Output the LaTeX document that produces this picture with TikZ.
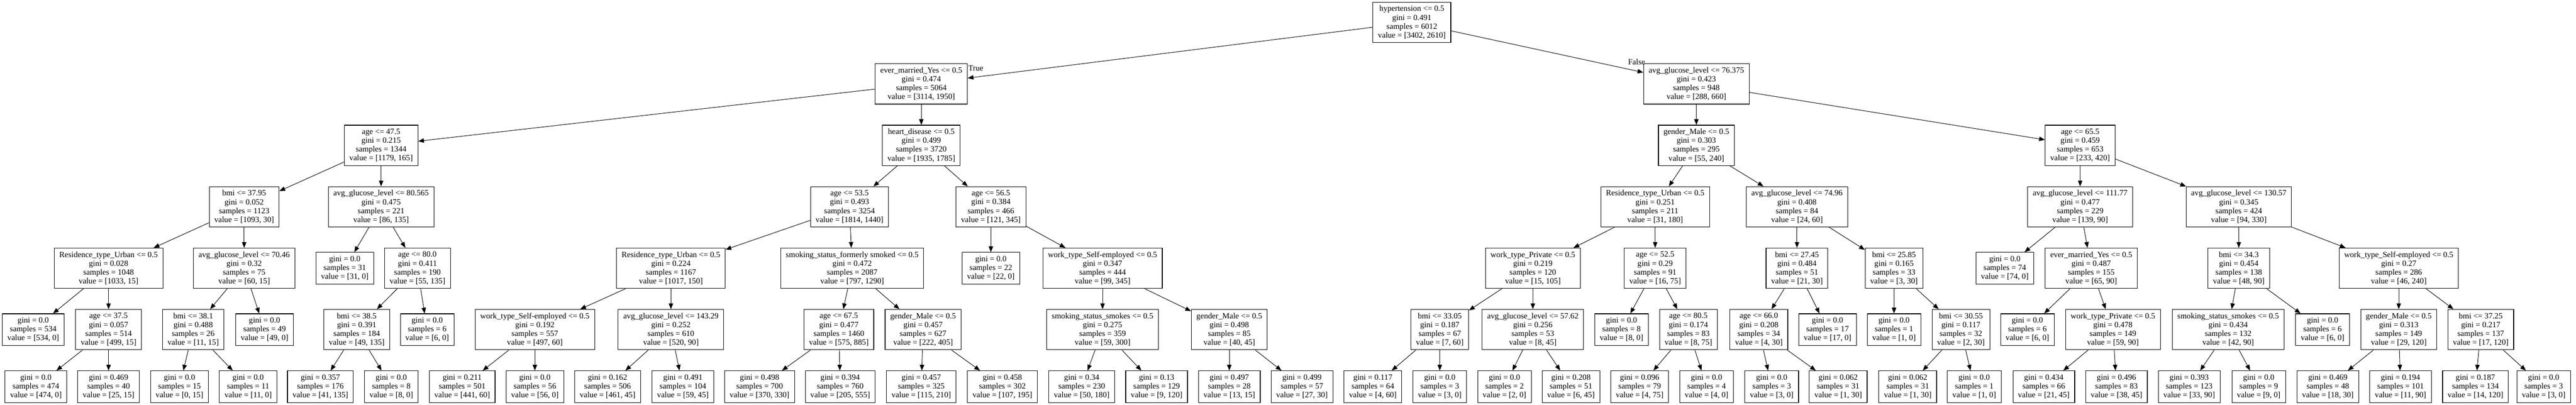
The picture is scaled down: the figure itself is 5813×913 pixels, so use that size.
\documentclass[tikz,border=0pt]{standalone}
\usepackage{fontspec}
\setmainfont{Liberation Serif}
\usetikzlibrary{arrows.meta}
\newcommand{\treefont}{\fontsize{18.2pt}{20pt}\selectfont}
\tikzset{
  box/.style={draw, rectangle, align=center, line width=1.3pt, inner xsep=11.5pt, inner ysep=1pt, font=\treefont},
  split/.style={box, minimum height=91pt},
  leaf/.style={box, minimum height=71.5pt},
  edge/.style={line width=1.1pt, -{Triangle[length=13pt,width=10pt]}},
}
\begin{document}
\begin{tikzpicture}[x=1pt,y=-1pt]
       \useasboundingbox (0,0) rectangle (5813,913);

       % depth 0 and 1
       \node[split] (R) at (3186,50.5) {hypertension <= 0.5\\gini = 0.491\\samples = 6012\\value = [3402, 2610]};
       \node[split] (RL) at (2079,189.3) {ever\_married\_Yes <= 0.5\\gini = 0.474\\samples = 5064\\value = [3114, 1950]};
       \node[split] (RR) at (3828,189.3) {avg\_glucose\_level <= 76.375\\gini = 0.423\\samples = 948\\value = [288, 660]};

       % depth 2
       \node[split] (RLL) at (860,328) {age <= 47.5\\gini = 0.215\\samples = 1344\\value = [1179, 165]};
       \node[split] (RLR) at (2079,328) {heart\_disease <= 0.5\\gini = 0.499\\samples = 3720\\value = [1935, 1785]};
       \node[split] (RRL) at (3828,328) {gender\_Male <= 0.5\\gini = 0.303\\samples = 295\\value = [55, 240]};
       \node[split] (RRR) at (4694,328) {age <= 65.5\\gini = 0.459\\samples = 653\\value = [233, 420]};

       % depth 3
       \node[split] (RLLL) at (551,466.7) {bmi <= 37.95\\gini = 0.052\\samples = 1123\\value = [1093, 30]};
       \node[split] (RLLR) at (860,466.7) {avg\_glucose\_level <= 80.565\\gini = 0.475\\samples = 221\\value = [86, 135]};
       \node[split] (RLRL) at (1917,466.7) {age <= 53.5\\gini = 0.493\\samples = 3254\\value = [1814, 1440]};
       \node[split] (RLRR) at (2236,466.7) {age <= 56.5\\gini = 0.384\\samples = 466\\value = [121, 345]};
       \node[split] (RRLL) at (3735,466.7) {Residence\_type\_Urban <= 0.5\\gini = 0.251\\samples = 211\\value = [31, 180]};
       \node[split] (RRLR) at (4055,466.7) {avg\_glucose\_level <= 74.96\\gini = 0.408\\samples = 84\\value = [24, 60]};
       \node[split] (RRRL) at (4694,466.7) {avg\_glucose\_level <= 111.77\\gini = 0.477\\samples = 229\\value = [139, 90]};
       \node[split] (RRRR) at (5052,466.7) {avg\_glucose\_level <= 130.57\\gini = 0.345\\samples = 424\\value = [94, 330]};

       % depth 4
       \node[split] (RLLLL) at (245,605.3) {Residence\_type\_Urban <= 0.5\\gini = 0.028\\samples = 1048\\value = [1033, 15]};
       \node[split] (RLLLR) at (551,605.3) {avg\_glucose\_level <= 70.46\\gini = 0.32\\samples = 75\\value = [60, 15]};
       \node[leaf] (RLLRL) at (778,605.3) {gini = 0.0\\samples = 31\\value = [31, 0]};
       \node[split] (RLLRR) at (942,605.3) {age <= 80.0\\gini = 0.411\\samples = 190\\value = [55, 135]};
       \node[split] (RLRLL) at (1514,605.3) {Residence\_type\_Urban <= 0.5\\gini = 0.224\\samples = 1167\\value = [1017, 150]};
       \node[split] (RLRLR) at (1923,605.3) {smoking\_status\_formerly smoked <= 0.5\\gini = 0.472\\samples = 2087\\value = [797, 1290]};
       \node[leaf] (RLRRL) at (2236,605.3) {gini = 0.0\\samples = 22\\value = [22, 0]};
       \node[split] (RLRRR) at (2488,605.3) {work\_type\_Self-employed <= 0.5\\gini = 0.347\\samples = 444\\value = [99, 345]};
       \node[split] (RRLLL) at (3459,605.3) {work\_type\_Private <= 0.5\\gini = 0.219\\samples = 120\\value = [15, 105]};
       \node[split] (RRLLR) at (3735,605.3) {age <= 52.5\\gini = 0.29\\samples = 91\\value = [16, 75]};
       \node[split] (RRLRL) at (4055,605.3) {bmi <= 27.45\\gini = 0.484\\samples = 51\\value = [21, 30]};
       \node[split] (RRLRR) at (4274,605.3) {bmi <= 25.85\\gini = 0.165\\samples = 33\\value = [3, 30]};
       \node[leaf] (RRRLL) at (4524,605.3) {gini = 0.0\\samples = 74\\value = [74, 0]};
       \node[split] (RRRLR) at (4719,605.3) {ever\_married\_Yes <= 0.5\\gini = 0.487\\samples = 155\\value = [65, 90]};
       \node[split] (RRRRL) at (5052,605.3) {bmi <= 34.3\\gini = 0.454\\samples = 138\\value = [48, 90]};
       \node[split] (RRRRR) at (5413,605.3) {work\_type\_Self-employed <= 0.5\\gini = 0.27\\samples = 286\\value = [46, 240]};

       % depth 5
       \node[leaf] (RLLLLL) at (75,743.7) {gini = 0.0\\samples = 534\\value = [534, 0]};
       \node[split] (RLLLLR) at (245,743.7) {age <= 37.5\\gini = 0.057\\samples = 514\\value = [499, 15]};
       \node[split] (RLLLRL) at (436,743.7) {bmi <= 38.1\\gini = 0.488\\samples = 26\\value = [11, 15]};
       \node[leaf] (RLLLRR) at (597,743.7) {gini = 0.0\\samples = 49\\value = [49, 0]};
       \node[split] (RLLRRL) at (805,743.7) {bmi <= 38.5\\gini = 0.391\\samples = 184\\value = [49, 135]};
       \node[leaf] (RLLRRR) at (964,743.7) {gini = 0.0\\samples = 6\\value = [6, 0]};
       \node[split] (RLRLLL) at (1207,743.7) {work\_type\_Self-employed <= 0.5\\gini = 0.192\\samples = 557\\value = [497, 60]};
       \node[split] (RLRLLR) at (1514,743.7) {avg\_glucose\_level <= 143.29\\gini = 0.252\\samples = 610\\value = [520, 90]};
       \node[split] (RLRLRL) at (1893,743.7) {age <= 67.5\\gini = 0.477\\samples = 1460\\value = [575, 885]};
       \node[split] (RLRLRR) at (2083,743.7) {gender\_Male <= 0.5\\gini = 0.457\\samples = 627\\value = [222, 405]};
       \node[split] (RLRRRL) at (2488,743.7) {smoking\_status\_smokes <= 0.5\\gini = 0.275\\samples = 359\\value = [59, 300]};
       \node[split] (RLRRRR) at (2774,743.7) {gender\_Male <= 0.5\\gini = 0.498\\samples = 85\\value = [40, 45]};
       \node[split] (RRLLLL) at (3249,743.7) {bmi <= 33.05\\gini = 0.187\\samples = 67\\value = [7, 60]};
       \node[split] (RRLLLR) at (3459,743.7) {avg\_glucose\_level <= 57.62\\gini = 0.256\\samples = 53\\value = [8, 45]};
       \node[leaf] (RRLLRL) at (3659,743.7) {gini = 0.0\\samples = 8\\value = [8, 0]};
       \node[split] (RRLLRR) at (3810,743.7) {age <= 80.5\\gini = 0.174\\samples = 83\\value = [8, 75]};
       \node[split] (RRLRLL) at (3969,743.7) {age <= 66.0\\gini = 0.208\\samples = 34\\value = [4, 30]};
       \node[leaf] (RRLRLR) at (4124,743.7) {gini = 0.0\\samples = 17\\value = [17, 0]};
       \node[leaf] (RRLRRL) at (4274,743.7) {gini = 0.0\\samples = 1\\value = [1, 0]};
       \node[split] (RRLRRR) at (4425,743.7) {bmi <= 30.55\\gini = 0.117\\samples = 32\\value = [2, 30]};
       \node[leaf] (RRRLRL) at (4575,743.7) {gini = 0.0\\samples = 6\\value = [6, 0]};
       \node[split] (RRRLRR) at (4768,743.7) {work\_type\_Private <= 0.5\\gini = 0.478\\samples = 149\\value = [59, 90]};
       \node[split] (RRRRLL) at (5028,743.7) {smoking\_status\_smokes <= 0.5\\gini = 0.434\\samples = 132\\value = [42, 90]};
       \node[leaf] (RRRRLR) at (5241,743.7) {gini = 0.0\\samples = 6\\value = [6, 0]};
       \node[split] (RRRRRL) at (5413,743.7) {gender\_Male <= 0.5\\gini = 0.313\\samples = 149\\value = [29, 120]};
       \node[split] (RRRRRR) at (5598,743.7) {bmi <= 37.25\\gini = 0.217\\samples = 137\\value = [17, 120]};

       % depth 6
       \node[leaf] (RLLLLRL) at (81,872.5) {gini = 0.0\\samples = 474\\value = [474, 0]};
       \node[leaf] (RLLLLRR) at (245,872.5) {gini = 0.469\\samples = 40\\value = [25, 15]};
       \node[leaf] (RLLLRLL) at (405,872.5) {gini = 0.0\\samples = 15\\value = [0, 15]};
       \node[leaf] (RLLLRLR) at (560,872.5) {gini = 0.0\\samples = 11\\value = [11, 0]};
       \node[leaf] (RLLRRLL) at (723,872.5) {gini = 0.357\\samples = 176\\value = [41, 135]};
       \node[leaf] (RLLRRLR) at (883,872.5) {gini = 0.0\\samples = 8\\value = [8, 0]};
       \node[leaf] (RLRLLLL) at (1043,872.5) {gini = 0.211\\samples = 501\\value = [441, 60]};
       \node[leaf] (RLRLLLR) at (1207,872.5) {gini = 0.0\\samples = 56\\value = [56, 0]};
       \node[leaf] (RLRLLRL) at (1371,872.5) {gini = 0.162\\samples = 506\\value = [461, 45]};
       \node[leaf] (RLRLLRR) at (1541,872.5) {gini = 0.491\\samples = 104\\value = [59, 45]};
       \node[leaf] (RLRLRLL) at (1714,872.5) {gini = 0.498\\samples = 700\\value = [370, 330]};
       \node[leaf] (RLRLRLR) at (1896,872.5) {gini = 0.394\\samples = 760\\value = [205, 555]};
       \node[leaf] (RLRLRRL) at (2079,872.5) {gini = 0.457\\samples = 325\\value = [115, 210]};
       \node[leaf] (RLRLRRR) at (2262,872.5) {gini = 0.458\\samples = 302\\value = [107, 195]};
       \node[leaf] (RLRRRLL) at (2441,872.5) {gini = 0.34\\samples = 230\\value = [50, 180]};
       \node[leaf] (RLRRRLR) at (2610,872.5) {gini = 0.13\\samples = 129\\value = [9, 120]};
       \node[leaf] (RLRRRRL) at (2774,872.5) {gini = 0.497\\samples = 28\\value = [13, 15]};
       \node[leaf] (RLRRRRR) at (2938,872.5) {gini = 0.499\\samples = 57\\value = [27, 30]};
       \node[leaf] (RRLLLLL) at (3098,872.5) {gini = 0.117\\samples = 64\\value = [4, 60]};
       \node[leaf] (RRLLLLR) at (3249,872.5) {gini = 0.0\\samples = 3\\value = [3, 0]};
       \node[leaf] (RRLLLRL) at (3395,872.5) {gini = 0.0\\samples = 2\\value = [2, 0]};
       \node[leaf] (RRLLLRR) at (3545,872.5) {gini = 0.208\\samples = 51\\value = [6, 45]};
       \node[leaf] (RRLLRRL) at (3700,872.5) {gini = 0.096\\samples = 79\\value = [4, 75]};
       \node[leaf] (RRLLRRR) at (3851,872.5) {gini = 0.0\\samples = 4\\value = [4, 0]};
       \node[leaf] (RRLRLLL) at (3998,872.5) {gini = 0.0\\samples = 3\\value = [3, 0]};
       \node[leaf] (RRLRLLR) at (4148,872.5) {gini = 0.062\\samples = 31\\value = [1, 30]};
       \node[leaf] (RRLRRRL) at (4305,872.5) {gini = 0.062\\samples = 31\\value = [1, 30]};
       \node[leaf] (RRLRRRR) at (4455,872.5) {gini = 0.0\\samples = 1\\value = [1, 0]};
       \node[leaf] (RRRLRRL) at (4612,872.5) {gini = 0.434\\samples = 66\\value = [21, 45]};
       \node[leaf] (RRRLRRR) at (4776,872.5) {gini = 0.496\\samples = 83\\value = [38, 45]};
       \node[leaf] (RRRRLLL) at (4940,872.5) {gini = 0.393\\samples = 123\\value = [33, 90]};
       \node[leaf] (RRRRLLR) at (5097,872.5) {gini = 0.0\\samples = 9\\value = [9, 0]};
       \node[leaf] (RRRRRLL) at (5253,872.5) {gini = 0.469\\samples = 48\\value = [18, 30]};
       \node[leaf] (RRRRRLR) at (5417,872.5) {gini = 0.194\\samples = 101\\value = [11, 90]};
       \node[leaf] (RRRRRRL) at (5586,872.5) {gini = 0.187\\samples = 134\\value = [14, 120]};
       \node[leaf] (RRRRRRR) at (5740,872.5) {gini = 0.0\\samples = 3\\value = [3, 0]};

       % branch labels
       \node[font=\treefont, inner sep=0pt] (TrueLab) at (2202,154) {True};
       \node[font=\treefont, inner sep=0pt] (FalseLab) at (3693,140) {False};

       % connectors
       \draw[edge] (R) -- (RL); \draw[edge] (R) -- (RR);
       \draw[edge] (RL) -- (RLL); \draw[edge] (RL) -- (RLR);
       \draw[edge] (RR) -- (RRL); \draw[edge] (RR) -- (RRR);
       \draw[edge] (RLL) -- (RLLL); \draw[edge] (RLL) -- (RLLR);
       \draw[edge] (RLR) -- (RLRL); \draw[edge] (RLR) -- (RLRR);
       \draw[edge] (RRL) -- (RRLL); \draw[edge] (RRL) -- (RRLR);
       \draw[edge] (RRR) -- (RRRL); \draw[edge] (RRR) -- (RRRR);
       \draw[edge] (RLLL) -- (RLLLL); \draw[edge] (RLLL) -- (RLLLR);
       \draw[edge] (RLLR) -- (RLLRL); \draw[edge] (RLLR) -- (RLLRR);
       \draw[edge] (RLRL) -- (RLRLL); \draw[edge] (RLRL) -- (RLRLR);
       \draw[edge] (RLRR) -- (RLRRL); \draw[edge] (RLRR) -- (RLRRR);
       \draw[edge] (RRLL) -- (RRLLL); \draw[edge] (RRLL) -- (RRLLR);
       \draw[edge] (RRLR) -- (RRLRL); \draw[edge] (RRLR) -- (RRLRR);
       \draw[edge] (RRRL) -- (RRRLL); \draw[edge] (RRRL) -- (RRRLR);
       \draw[edge] (RRRR) -- (RRRRL); \draw[edge] (RRRR) -- (RRRRR);
       \draw[edge] (RLLLL) -- (RLLLLL); \draw[edge] (RLLLL) -- (RLLLLR);
       \draw[edge] (RLLLR) -- (RLLLRL); \draw[edge] (RLLLR) -- (RLLLRR);
       \draw[edge] (RLLRR) -- (RLLRRL); \draw[edge] (RLLRR) -- (RLLRRR);
       \draw[edge] (RLRLL) -- (RLRLLL); \draw[edge] (RLRLL) -- (RLRLLR);
       \draw[edge] (RLRLR) -- (RLRLRL); \draw[edge] (RLRLR) -- (RLRLRR);
       \draw[edge] (RLRRR) -- (RLRRRL); \draw[edge] (RLRRR) -- (RLRRRR);
       \draw[edge] (RRLLL) -- (RRLLLL); \draw[edge] (RRLLL) -- (RRLLLR);
       \draw[edge] (RRLLR) -- (RRLLRL); \draw[edge] (RRLLR) -- (RRLLRR);
       \draw[edge] (RRLRL) -- (RRLRLL); \draw[edge] (RRLRL) -- (RRLRLR);
       \draw[edge] (RRLRR) -- (RRLRRL); \draw[edge] (RRLRR) -- (RRLRRR);
       \draw[edge] (RRRLR) -- (RRRLRL); \draw[edge] (RRRLR) -- (RRRLRR);
       \draw[edge] (RRRRL) -- (RRRRLL); \draw[edge] (RRRRL) -- (RRRRLR);
       \draw[edge] (RRRRR) -- (RRRRRL); \draw[edge] (RRRRR) -- (RRRRRR);
       \draw[edge] (RLLLLR) -- (RLLLLRL); \draw[edge] (RLLLLR) -- (RLLLLRR);
       \draw[edge] (RLLLRL) -- (RLLLRLL); \draw[edge] (RLLLRL) -- (RLLLRLR);
       \draw[edge] (RLLRRL) -- (RLLRRLL); \draw[edge] (RLLRRL) -- (RLLRRLR);
       \draw[edge] (RLRLLL) -- (RLRLLLL); \draw[edge] (RLRLLL) -- (RLRLLLR);
       \draw[edge] (RLRLLR) -- (RLRLLRL); \draw[edge] (RLRLLR) -- (RLRLLRR);
       \draw[edge] (RLRLRL) -- (RLRLRLL); \draw[edge] (RLRLRL) -- (RLRLRLR);
       \draw[edge] (RLRLRR) -- (RLRLRRL); \draw[edge] (RLRLRR) -- (RLRLRRR);
       \draw[edge] (RLRRRL) -- (RLRRRLL); \draw[edge] (RLRRRL) -- (RLRRRLR);
       \draw[edge] (RLRRRR) -- (RLRRRRL); \draw[edge] (RLRRRR) -- (RLRRRRR);
       \draw[edge] (RRLLLL) -- (RRLLLLL); \draw[edge] (RRLLLL) -- (RRLLLLR);
       \draw[edge] (RRLLLR) -- (RRLLLRL); \draw[edge] (RRLLLR) -- (RRLLLRR);
       \draw[edge] (RRLLRR) -- (RRLLRRL); \draw[edge] (RRLLRR) -- (RRLLRRR);
       \draw[edge] (RRLRLL) -- (RRLRLLL); \draw[edge] (RRLRLL) -- (RRLRLLR);
       \draw[edge] (RRLRRR) -- (RRLRRRL); \draw[edge] (RRLRRR) -- (RRLRRRR);
       \draw[edge] (RRRLRR) -- (RRRLRRL); \draw[edge] (RRRLRR) -- (RRRLRRR);
       \draw[edge] (RRRRLL) -- (RRRRLLL); \draw[edge] (RRRRLL) -- (RRRRLLR);
       \draw[edge] (RRRRRL) -- (RRRRRLL); \draw[edge] (RRRRRL) -- (RRRRRLR);
       \draw[edge] (RRRRRR) -- (RRRRRRL); \draw[edge] (RRRRRR) -- (RRRRRRR);
\end{tikzpicture}
\end{document}
